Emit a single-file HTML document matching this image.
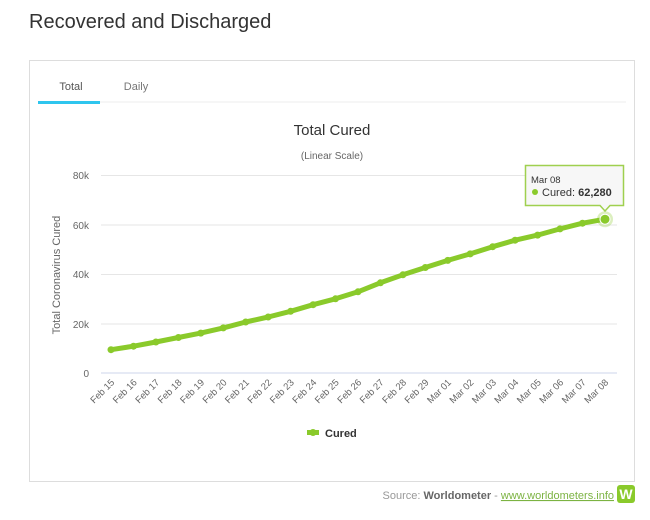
<!DOCTYPE html>
<html><head><style>
body{margin:0;background:#fff;width:650px;height:515px;overflow:hidden;font-family:"Liberation Sans",sans-serif;}
</style></head><body>
<svg width="650" height="515" xmlns="http://www.w3.org/2000/svg" font-family="Liberation Sans, sans-serif">
<text x="29" y="28" font-size="20" fill="#333">Recovered and Discharged</text>
<rect x="29.5" y="60.5" width="605" height="421" fill="#fff" stroke="#ddd"/>
<line x1="38" y1="102" x2="626" y2="102" stroke="#eee"/>
<rect x="38" y="101" width="62" height="3" fill="#2ec5ee"/>
<text x="71" y="90" font-size="11" fill="#555" text-anchor="middle">Total</text>
<text x="136" y="90" font-size="11" fill="#777" text-anchor="middle">Daily</text>
<text x="332" y="135" font-size="15" fill="#333" text-anchor="middle">Total Cured</text>
<text x="332" y="159" font-size="10" fill="#666" text-anchor="middle">(Linear Scale)</text>
<g stroke="#e6e6e6" stroke-width="1">
<line x1="101" y1="175.5" x2="617" y2="175.5"/>
<line x1="101" y1="225" x2="617" y2="225"/>
<line x1="101" y1="274.5" x2="617" y2="274.5"/>
<line x1="101" y1="324" x2="617" y2="324"/>
<line x1="101" y1="373" x2="617" y2="373" stroke="#ccd6eb"/>
</g>
<g font-size="10" fill="#666" text-anchor="end">
<text x="89" y="179">80k</text><text x="89" y="229">60k</text><text x="89" y="278">40k</text><text x="89" y="328">20k</text><text x="89" y="377">0</text>
</g>
<text transform="translate(60,275) rotate(-90)" font-size="11" fill="#666" text-anchor="middle">Total Coronavirus Cured</text>
<g font-size="9.5" fill="#666" text-anchor="end">
<text transform="translate(115,383) rotate(-45)">Feb 15</text>
<text transform="translate(137.5,383) rotate(-45)">Feb 16</text>
<text transform="translate(160,383) rotate(-45)">Feb 17</text>
<text transform="translate(182.4,383) rotate(-45)">Feb 18</text>
<text transform="translate(204.8,383) rotate(-45)">Feb 19</text>
<text transform="translate(227.3,383) rotate(-45)">Feb 20</text>
<text transform="translate(249.7,383) rotate(-45)">Feb 21</text>
<text transform="translate(272.2,383) rotate(-45)">Feb 22</text>
<text transform="translate(294.6,383) rotate(-45)">Feb 23</text>
<text transform="translate(317.1,383) rotate(-45)">Feb 24</text>
<text transform="translate(339.5,383) rotate(-45)">Feb 25</text>
<text transform="translate(362,383) rotate(-45)">Feb 26</text>
<text transform="translate(384.4,383) rotate(-45)">Feb 27</text>
<text transform="translate(406.9,383) rotate(-45)">Feb 28</text>
<text transform="translate(429.3,383) rotate(-45)">Feb 29</text>
<text transform="translate(451.8,383) rotate(-45)">Mar 01</text>
<text transform="translate(474.2,383) rotate(-45)">Mar 02</text>
<text transform="translate(496.7,383) rotate(-45)">Mar 03</text>
<text transform="translate(519.1,383) rotate(-45)">Mar 04</text>
<text transform="translate(541.6,383) rotate(-45)">Mar 05</text>
<text transform="translate(564,383) rotate(-45)">Mar 06</text>
<text transform="translate(586.5,383) rotate(-45)">Mar 07</text>
<text transform="translate(609,383) rotate(-45)">Mar 08</text>
</g>
<polyline fill="none" stroke="#8ACA2B" stroke-width="5" stroke-linejoin="round" stroke-linecap="round" points="111,349.7 133.5,346.2 155.9,342 178.4,337.5 200.8,333.1 223.3,327.9 245.7,322 268.2,317 290.6,311.3 313.1,304.7 335.5,298.8 358,291.8 380.4,282.8 402.9,274.8 425.3,267.5 447.8,260.4 470.2,253.9 492.7,246.7 515.1,240.2 537.6,235.1 560,228.9 582.5,223.2 605,219.2"/>
<g fill="#8ACA2B">
<circle cx="111" cy="349.7" r="3.5"/><circle cx="133.5" cy="346.2" r="3.5"/><circle cx="155.9" cy="342" r="3.5"/><circle cx="178.4" cy="337.5" r="3.5"/><circle cx="200.8" cy="333.1" r="3.5"/><circle cx="223.3" cy="327.9" r="3.5"/><circle cx="245.7" cy="322" r="3.5"/><circle cx="268.2" cy="317" r="3.5"/><circle cx="290.6" cy="311.3" r="3.5"/><circle cx="313.1" cy="304.7" r="3.5"/><circle cx="335.5" cy="298.8" r="3.5"/><circle cx="358" cy="291.8" r="3.5"/><circle cx="380.4" cy="282.8" r="3.5"/><circle cx="402.9" cy="274.8" r="3.5"/><circle cx="425.3" cy="267.5" r="3.5"/><circle cx="447.8" cy="260.4" r="3.5"/><circle cx="470.2" cy="253.9" r="3.5"/><circle cx="492.7" cy="246.7" r="3.5"/><circle cx="515.1" cy="240.2" r="3.5"/><circle cx="537.6" cy="235.1" r="3.5"/><circle cx="560" cy="228.9" r="3.5"/><circle cx="582.5" cy="223.2" r="3.5"/>
<circle cx="605" cy="219.2" r="8" fill="#8ACA2B" opacity="0.3"/>
<circle cx="605" cy="219.2" r="5" stroke="#fff" stroke-width="1"/>
</g>
<path d="M525.5,165.5 H623.5 V205.5 H610 L605,211 L600,205.5 H525.5 Z" fill="#f7f7f7" stroke="#9fd04f" stroke-width="1.5"/>
<text x="531" y="183" font-size="9.5" fill="#333">Mar 08</text>
<circle cx="535" cy="192" r="3" fill="#8ACA2B"/>
<text x="542" y="196" font-size="11" fill="#333">Cured: <tspan font-weight="bold">62,280</tspan></text>
<rect x="307" y="430" width="12" height="5" fill="#8ACA2B"/>
<circle cx="313" cy="432.5" r="3.5" fill="#8ACA2B"/>
<text x="325" y="437" font-size="11" font-weight="bold" fill="#333">Cured</text>
<text x="614" y="499" font-size="11" fill="#999" text-anchor="end">Source: <tspan font-weight="bold" fill="#666">Worldometer</tspan> - <tspan fill="#7cb342" text-decoration="underline">www.worldometers.info</tspan></text>
<rect x="617" y="485" width="18" height="18" rx="3" fill="#8ACA2B"/>
<text x="626" y="499" font-size="14" font-weight="bold" fill="#fff" text-anchor="middle">W</text>
</svg>
</body></html>
